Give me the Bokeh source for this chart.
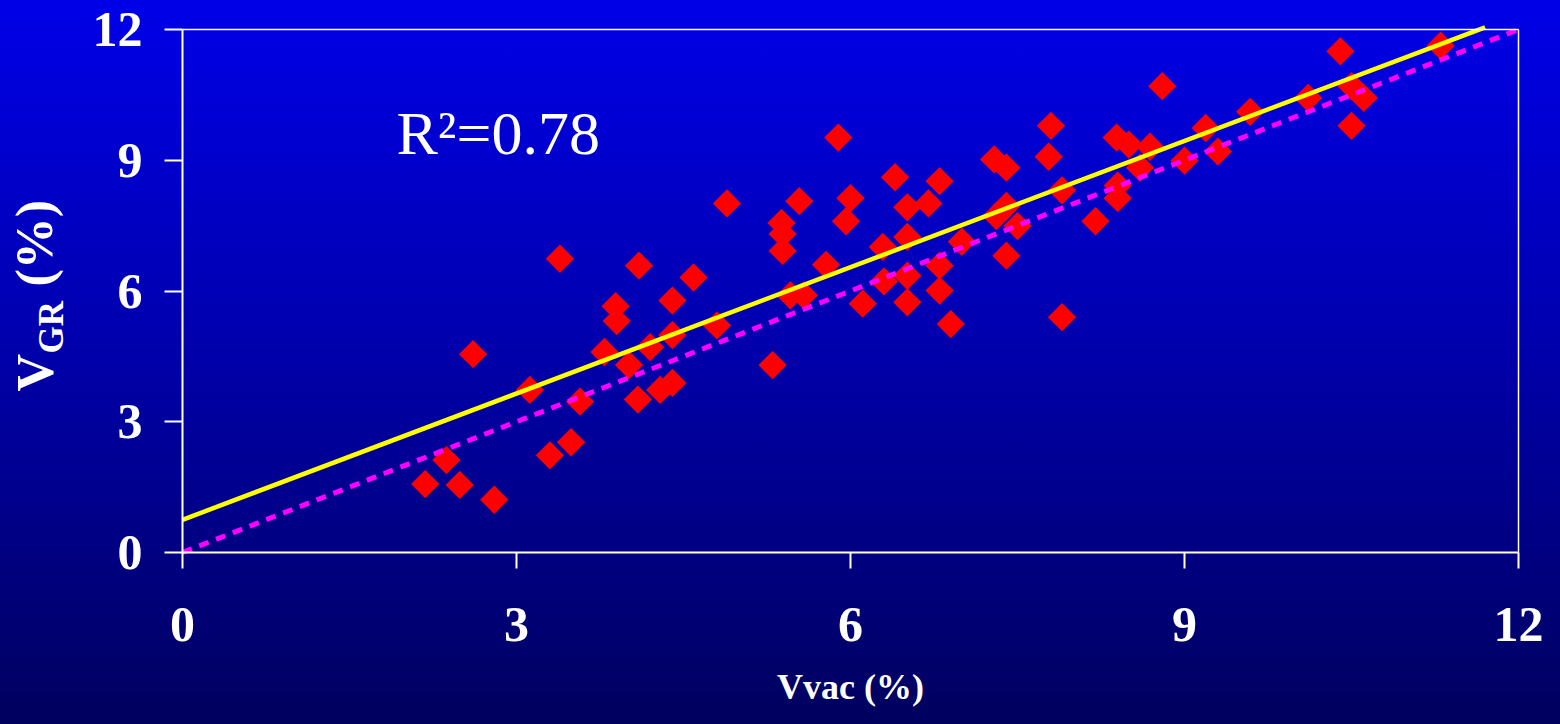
import numpy as np
from bokeh.plotting import figure
from bokeh.models import (Range1d, FixedTicker, Label, LinearAxis,
                          GlobalInlineStyleSheet)
from bokeh.embed import file_html
from bokeh.resources import INLINE

# ---- data ----
vvac = [2.18, 2.37, 2.49, 2.61, 2.80, 3.12, 3.30, 3.39, 3.49, 3.57,
        3.79, 3.89, 3.90, 4.01, 4.09, 4.10, 4.20, 4.29, 4.40, 4.40,
        4.40, 4.59, 4.80, 4.89, 5.30, 5.38, 5.39, 5.39, 5.54, 5.46,
        5.58, 5.78, 5.89, 5.96, 6.00, 6.11, 6.29, 6.30, 6.40, 6.51,
        6.51, 6.51, 6.51, 6.70, 6.80, 6.80, 6.80, 6.90, 7.00, 7.29,
        7.40, 7.31, 7.40, 7.50, 7.40, 7.80, 7.78, 7.90, 7.90, 8.20,
        8.39, 8.50, 8.40, 8.40, 8.60, 8.69, 8.80, 9.00, 9.19, 9.30,
        9.59, 10.11, 10.40, 10.50, 10.61, 10.50, 11.30]
vgr = [1.57, 2.12, 1.55, 4.55, 1.21, 3.73, 2.23, 6.74, 2.53, 3.46,
       4.60, 5.65, 5.31, 4.30, 3.51, 6.58, 4.71, 3.73, 5.78, 4.99,
       3.89, 6.31, 5.21, 8.01, 4.30, 7.56, 7.31, 6.92, 8.06, 5.90,
       5.90, 6.60, 9.52, 7.60, 8.13, 5.71, 7.01, 6.22, 8.61, 7.92,
       7.24, 6.35, 5.74, 8.01, 8.52, 6.58, 6.01, 5.24, 7.13, 9.02,
       8.83, 7.72, 7.95, 7.49, 6.81, 9.79, 9.08, 8.31, 5.40, 7.60,
       9.52, 9.36, 8.42, 8.13, 8.83, 9.31, 10.70, 8.99, 9.74, 9.20,
       10.11, 10.43, 11.50, 10.70, 10.43, 9.79, 11.63]
fit_x = [0.0, 11.7]
fit_y = [0.75, 12.05]
ident_x = [0.0, 12.0]
ident_y = [0.0, 12.0]
ticks = [0, 3, 6, 9, 12]
x_title = "Vvac (%)"
y_title_main = "V"
y_title_sub = "GR"
y_title_rest = "(%)"
r2_text = "R\u00b2=0.78"

SERIF = "Liberation Serif"

W, H = 1544, 708
FRAME_L, FRAME_R, FRAME_T, FRAME_B = 182, 1518, 29, 552   # pixel box of the 0..12 square
ppu_x = (FRAME_R - FRAME_L) / 12.0
ppu_y = (FRAME_B - FRAME_T) / 12.0


def sx(px):
    return (px - FRAME_L) / ppu_x


def sy(py):
    return (FRAME_B - py) / ppu_y


# the frame covers the whole canvas; the axes are pinned at 0 so nothing gets clipped
p = figure(width=W, height=H, output_backend="svg", toolbar_location=None,
           x_range=Range1d(sx(0), sx(W)), y_range=Range1d(sy(H), sy(0)),
           min_border=0)

p.stylesheets = [GlobalInlineStyleSheet(css=(
    "html { min-height: 100%; background: linear-gradient(to bottom, #0000E8 0%, #0000B0 45%, #00005E 100%) fixed; }"
    "body { background: transparent; }"))]
p.border_fill_color = None
p.background_fill_color = None
p.outline_line_color = None
p.grid.visible = False

for ax in (p.xaxis[0], p.yaxis[0]):
    ax.ticker = FixedTicker(ticks=ticks)
    ax.bounds = (0, 12)
    ax.fixed_location = 0
    ax.axis_line_color = "white"
    ax.axis_line_width = 2
    ax.major_tick_line_color = "white"
    ax.major_tick_line_width = 2
    ax.major_tick_in = 0
    ax.minor_tick_line_color = None
    ax.major_label_text_color = "white"
    ax.major_label_text_font = SERIF
    ax.major_label_text_font_style = "bold"
    ax.major_label_text_font_size = "50px"

p.xaxis.major_tick_out = 16
p.yaxis.major_tick_out = 18
p.xaxis.major_label_standoff = 39
p.yaxis.major_label_standoff = 22

# thin top and right border of the plotting square
for loc in ("below", "left"):
    bax = LinearAxis(ticker=FixedTicker(ticks=[]), bounds=(0, 12), fixed_location=12,
                     axis_line_color="white", axis_line_width=1.5,
                     major_tick_line_color=None, minor_tick_line_color=None,
                     major_label_text_color=None)
    p.add_layout(bax, loc)

# points
p.scatter(vvac, vgr, marker="square", size=20, angle=np.pi / 4,
          fill_color="#FF0000", line_color=None)

# lines on top of the points
p.line(ident_x, ident_y, line_color="#FF00FF", line_width=5, line_dash="10 8")
p.line(fit_x, fit_y, line_color="#FFFF00", line_width=4.5)

# x title
p.add_layout(Label(x=6.0, y=sy(686), text=x_title,
                   text_font=SERIF, text_font_style="bold", text_font_size="36px",
                   text_color="white", text_align="center", text_baseline="alphabetic"))

# y title: V with subscript GR, then (%)
p.add_layout(Label(x=sx(35), y=sy(391), text=y_title_main, angle=np.pi / 2,
                   text_font=SERIF, text_font_style="bold", text_font_size="52px",
                   text_color="white", text_align="left", text_baseline="alphabetic"))
p.add_layout(Label(x=sx(51), y=sy(353), text=y_title_sub, angle=np.pi / 2,
                   text_font=SERIF, text_font_style="bold", text_font_size="35px",
                   text_color="white", text_align="left", text_baseline="alphabetic"))
p.add_layout(Label(x=sx(34), y=sy(286), text=y_title_rest, angle=np.pi / 2,
                   text_font=SERIF, text_font_style="bold", text_font_size="52px",
                   text_color="white", text_align="left", text_baseline="alphabetic"))

p.add_layout(Label(x=sx(396), y=sy(132), text=r2_text,
                   text_font=SERIF, text_font_size="62px",
                   text_color="white", text_align="left", text_baseline="alphabetic"))

open("out.html", "w", encoding="utf-8").write(file_html(p, INLINE))
